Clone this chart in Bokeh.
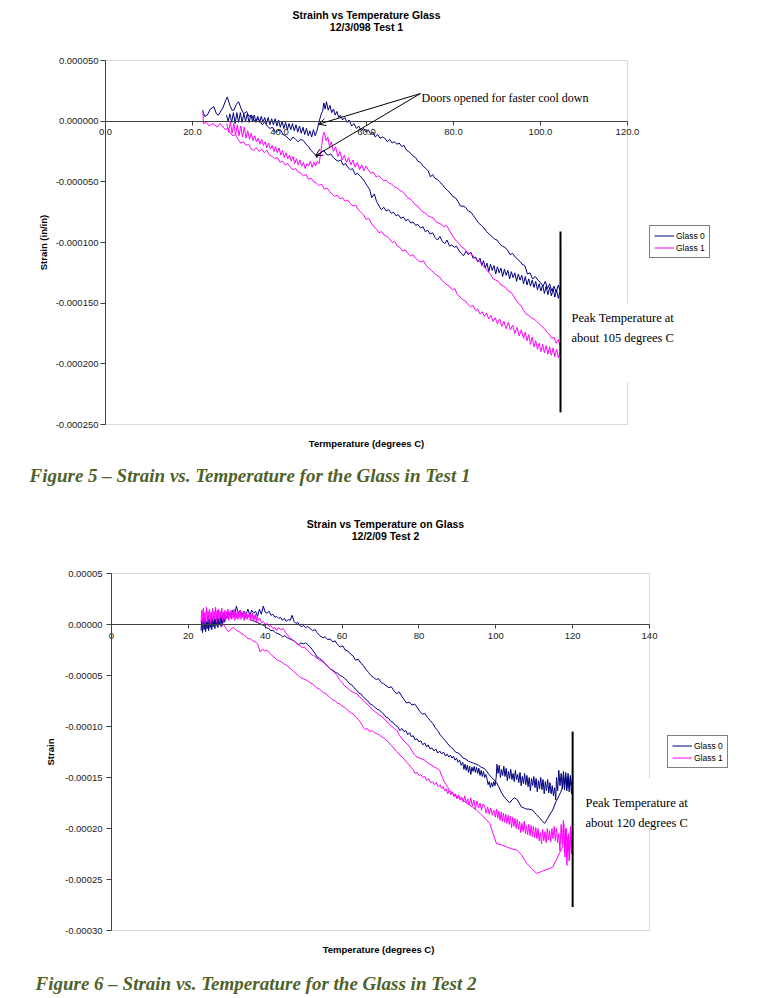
from bokeh.plotting import figure
from bokeh.models import (Range1d, FixedTicker, PrintfTickFormatter, Label, Arrow,
                          OpenHead, Legend, LegendItem, BoxAnnotation)
from bokeh.layouts import column
from bokeh.embed import file_html
from bokeh.resources import INLINE

# ---------------- DATA (temperature degC, strain in micro-strain) ----------------
# Test 1 (12/3/09) - Glass 0
t1_g0_heat = [(22.3, 9), (22.8, 4), (23.4, 5), (24.1, 10), (24.9, 12), (25.5, 6), (26.0, 5), (26.6, 9), (27.0, 11),
    (27.6, 17), (28.0, 20), (28.6, 13), (29.1, 9), (29.5, 9), (30.1, 14), (30.6, 16), (31.2, 10), (31.8, 6), (32.4, 8),
    (33.0, 4), (33.6, 5), (34.2, 0), (34.8, 2), (35.4, 1), (36.0, -3), (36.6, -1), (37.2, -4), (37.8, -6), (38.4, -5),
    (39.0, -9), (39.6, -8), (40.2, -7), (40.8, -11), (41.4, -12), (42.0, -14), (42.5, -16), (43.1, -13), (43.7, -15),
    (44.3, -17), (44.9, -15), (45.5, -16), (46.1, -19), (46.7, -21), (47.2, -24), (47.8, -26), (48.3, -28), (48.6, -30),
    (49.2, -27), (49.7, -25), (50.2, -24), (50.7, -27), (51.2, -28), (51.8, -27), (52.4, -30), (53.0, -32), (53.5, -33),
    (54.1, -32), (54.6, -36), (55.2, -35), (55.7, -38), (56.3, -40), (56.8, -39), (57.4, -44), (57.9, -43), (58.5, -45),
    (59.0, -47), (59.6, -50), (60.1, -53), (60.7, -56), (61.2, -63), (61.8, -60), (62.3, -66), (62.9, -70), (63.4, -73),
    (64.0, -71), (64.5, -74), (65.1, -73), (65.7, -76), (66.2, -75), (66.8, -78), (67.3, -77), (67.9, -80), (68.5, -79),
    (69.0, -82), (69.6, -81), (70.2, -84), (70.7, -83), (71.3, -86), (71.8, -85), (72.4, -88), (73.0, -87), (73.5, -91),
    (74.1, -90), (74.6, -93), (75.2, -92), (75.8, -96), (76.3, -98), (76.9, -95), (77.4, -99), (78.0, -101), (78.5, -98),
    (79.1, -103), (79.6, -102), (80.2, -104), (80.7, -103), (81.3, -107), (81.8, -109), (82.3, -111), (82.9, -107),
    (83.4, -110), (84.0, -108), (84.5, -113), (85.1, -112), (85.6, -116), (86.1, -113), (86.5, -119), (86.9, -115),
    (87.3, -121), (87.7, -117), (88.1, -124), (88.5, -118), (88.9, -123), (89.3, -119), (89.7, -126), (90.1, -120),
    (90.5, -125), (90.9, -121), (91.3, -128), (91.7, -122), (92.1, -127), (92.5, -123), (92.9, -130), (93.3, -124),
    (93.7, -129), (94.1, -125), (94.5, -132), (94.9, -126), (95.3, -131), (95.7, -127), (96.1, -134), (96.5, -128),
    (96.9, -135), (97.3, -130), (97.7, -136), (98.1, -131), (98.5, -137), (98.9, -132), (99.3, -139), (99.7, -134),
    (100.1, -140), (100.5, -135), (100.9, -142), (101.3, -136), (101.7, -143), (102.1, -137), (102.5, -144),
    (102.9, -138), (103.3, -145), (103.7, -139), (104.1, -146), (104.5, -140)]
t1_g0_cool = [(104.5, -140), (104.1, -135), (103.6, -141), (103.1, -136), (102.6, -140), (102.1, -134), (101.6, -138),
    (101.1, -132), (100.6, -136), (100.0, -133), (99.4, -131), (98.8, -128), (98.2, -130), (97.6, -125), (97.0, -126),
    (96.4, -119), (95.8, -118), (95.4, -116), (94.8, -114), (94.2, -112), (93.6, -109), (93.0, -110), (92.4, -106),
    (91.8, -104), (91.2, -103), (90.6, -101), (90.0, -98), (89.4, -97), (88.8, -95), (88.2, -93), (87.6, -91),
    (87.0, -88), (86.4, -86), (85.8, -84), (85.2, -81), (84.6, -78), (84.0, -75), (83.4, -74), (82.8, -71), (82.2, -70),
    (81.6, -70), (81.0, -66), (80.4, -63), (79.8, -62), (79.2, -59), (78.6, -57), (78.0, -55), (77.4, -52), (76.8, -50),
    (76.3, -48), (75.7, -47), (75.2, -44), (74.7, -46), (74.2, -41), (73.6, -39), (73.0, -37), (72.4, -34), (71.8, -33),
    (71.3, -30), (70.8, -29), (70.3, -27), (69.7, -25), (69.2, -24), (68.6, -20), (68.1, -21), (67.5, -18), (67.0, -19),
    (66.4, -17), (65.9, -18), (65.3, -15), (64.8, -17), (64.2, -14), (63.7, -13), (63.1, -14), (62.6, -11), (62.0, -13),
    (61.5, -9), (61.0, -11), (60.4, -7), (59.9, -9), (59.3, -6), (58.8, -8), (58.2, -4), (57.7, -6), (57.1, -2),
    (56.6, -4), (56.0, 1), (55.5, -1), (55.0, 3), (54.5, 1), (54.0, 5), (53.6, 3), (53.2, 8), (52.8, 5), (52.4, 10),
    (52.0, 7), (51.6, 13), (51.2, 9), (50.8, 16), (50.5, 10), (50.2, 15), (49.9, 8), (49.6, 6), (49.2, 1), (49.0, -2),
    (48.6, -8), (48.2, -12), (47.8, -7), (47.4, -13), (47.0, -8), (46.6, -12), (46.2, -6), (45.8, -11), (45.4, -5),
    (45.0, -10), (44.6, -4), (44.2, -9), (43.8, -3), (43.4, -8), (43.0, -2), (42.6, -7), (42.2, -2), (41.8, -7),
    (41.4, -1), (41.0, -6), (40.6, 0), (40.2, -5), (39.8, 1), (39.4, -4), (39.0, 2), (38.6, -3), (38.2, 2), (37.8, -3),
    (37.4, 3), (37.0, -2), (36.6, 3), (36.2, -1), (35.8, 4), (35.4, -1), (35.0, 4), (34.6, -1), (34.2, 5), (33.8, 0),
    (33.4, 5), (33.0, -1), (32.6, 6), (32.2, 0), (31.8, 6), (31.4, -1), (31.0, 7), (30.6, -1), (30.2, 7), (29.8, -2),
    (29.4, 7), (29.0, -1), (28.6, 6), (28.2, 0), (27.8, 5)]
# Test 1 - Glass 1
t1_g1_heat = [(22.4, 8), (22.5, -2), (23.2, -1), (23.8, -4), (24.5, -2), (25.1, -3), (25.7, -5), (26.3, -2), (26.9, -4),
    (27.5, -7), (28.1, -6), (28.7, -10), (29.3, -12), (29.9, -11), (30.5, -15), (31.1, -18), (31.7, -17), (32.3, -20),
    (32.9, -19), (33.5, -23), (34.1, -24), (34.7, -22), (35.3, -25), (35.9, -23), (36.5, -26), (37.1, -24), (37.7, -28),
    (38.3, -29), (38.9, -31), (39.5, -30), (40.1, -34), (40.7, -33), (41.3, -36), (41.9, -35), (42.5, -38), (43.1, -40),
    (43.7, -39), (44.3, -42), (44.9, -43), (45.5, -45), (46.1, -44), (46.7, -48), (47.3, -47), (47.9, -50), (48.5, -51),
    (49.1, -53), (49.7, -52), (50.3, -56), (50.9, -55), (51.5, -58), (52.1, -60), (52.7, -62), (53.3, -61), (53.9, -64),
    (54.5, -63), (55.1, -66), (55.7, -65), (56.3, -68), (56.9, -70), (57.5, -69), (58.1, -73), (58.7, -75), (59.3, -77),
    (59.9, -81), (60.5, -80), (61.1, -84), (61.7, -87), (62.3, -89), (62.9, -92), (63.5, -91), (64.1, -94), (64.7, -95),
    (65.3, -97), (65.9, -100), (66.5, -99), (67.1, -103), (67.7, -104), (68.3, -107), (68.9, -106), (69.5, -109),
    (70.1, -111), (70.7, -110), (71.3, -113), (71.9, -115), (72.5, -116), (73.1, -115), (73.7, -119), (74.3, -121),
    (74.9, -123), (75.5, -125), (76.1, -127), (76.7, -128), (77.3, -131), (77.9, -133), (78.5, -135), (79.1, -136),
    (79.7, -139), (80.3, -138), (80.9, -143), (81.5, -145), (82.1, -147), (82.7, -148), (83.3, -151), (83.9, -153),
    (84.5, -152), (85.1, -156), (85.6, -155), (86.1, -159), (86.6, -157), (87.1, -161), (87.6, -158), (88.1, -163),
    (88.6, -160), (89.1, -165), (89.6, -162), (90.1, -167), (90.6, -163), (91.1, -169), (91.6, -165), (92.1, -171),
    (92.6, -166), (93.1, -172), (93.6, -168), (94.1, -175), (94.6, -170), (95.1, -177), (95.6, -172), (96.1, -179),
    (96.5, -174), (96.9, -181), (97.3, -176), (97.7, -184), (98.1, -178), (98.5, -186), (98.9, -181), (99.3, -188),
    (99.7, -183), (100.1, -190), (100.5, -184), (100.9, -191), (101.3, -185), (101.7, -192), (102.1, -186),
    (102.5, -193), (102.9, -187), (103.3, -194), (103.7, -188), (104.1, -195), (104.5, -190)]
t1_g1_cool = [(104.5, -186), (104.1, -180), (103.6, -183), (103.1, -178), (102.6, -179), (102.1, -176), (101.5, -174),
    (100.9, -171), (100.3, -169), (99.7, -167), (99.1, -165), (98.5, -163), (97.9, -162), (97.3, -160), (96.7, -159),
    (96.1, -156), (95.5, -152), (94.9, -150), (94.3, -147), (93.8, -144), (93.2, -141), (92.6, -140), (92.0, -137),
    (91.5, -136), (90.9, -135), (90.3, -132), (89.7, -131), (89.1, -130), (88.5, -126), (87.9, -124), (87.3, -121),
    (86.7, -119), (86.1, -116), (85.5, -115), (84.9, -113), (84.3, -110), (83.7, -109), (83.1, -108), (82.5, -105),
    (81.9, -104), (81.3, -101), (80.7, -99), (80.1, -96), (79.5, -93), (78.9, -89), (78.4, -86), (77.8, -87),
    (77.2, -85), (76.6, -84), (76.0, -83), (75.4, -80), (74.8, -79), (74.2, -78), (73.6, -76), (73.0, -75), (72.4, -73),
    (71.8, -70), (71.2, -69), (70.6, -66), (70.0, -64), (69.4, -63), (68.8, -60), (68.2, -58), (67.6, -57), (67.0, -55),
    (66.4, -54), (65.8, -52), (65.2, -51), (64.6, -49), (64.0, -49), (63.4, -47), (62.8, -45), (62.2, -46), (61.6, -42),
    (61.0, -43), (60.4, -40), (59.9, -37), (59.4, -41), (58.9, -36), (58.4, -40), (57.9, -34), (57.4, -38), (56.9, -32),
    (56.4, -36), (55.9, -30), (55.4, -34), (54.9, -28), (54.4, -32), (53.9, -25), (53.4, -29), (52.9, -21), (52.4, -25),
    (51.9, -17), (51.5, -21), (51.1, -13), (50.7, -16), (50.3, -9), (50.0, -12), (49.7, -20), (49.4, -28), (49.1, -35),
    (48.7, -33), (48.3, -37), (47.9, -34), (47.5, -38), (47.1, -33), (46.7, -37), (46.3, -35), (45.9, -39), (45.5, -34),
    (45.1, -37), (44.7, -32), (44.3, -36), (43.9, -31), (43.5, -35), (43.1, -29), (42.7, -33), (42.3, -28), (41.9, -31),
    (41.5, -26), (41.1, -30), (40.7, -24), (40.3, -28), (39.9, -22), (39.5, -26), (39.1, -21), (38.7, -25), (38.3, -20),
    (37.9, -23), (37.5, -18), (37.1, -22), (36.7, -17), (36.3, -20), (35.9, -15), (35.5, -19), (35.1, -14), (34.7, -17),
    (34.3, -12), (33.9, -16), (33.5, -10), (33.1, -15), (32.7, -8), (32.3, -14), (31.9, -5), (31.5, -13), (31.1, -4),
    (30.7, -12), (30.3, -3), (29.9, -11), (29.5, -2), (29.1, -10), (28.7, -1), (28.3, -9), (27.9, -2)]

# Test 2 (12/2/09) - Glass 0
t2_g0_heat = [(23.3, -6), (23.5, 4), (23.7, -8), (23.9, 6), (24.1, -5), (24.3, 7), (24.5, -7), (24.7, 3), (24.9, -4),
    (25.1, 8), (25.3, -6), (25.5, 5), (25.7, -3), (25.9, 7), (26.1, -5), (26.3, 6), (26.5, -2), (26.7, 8), (26.9, -4),
    (27.1, 5), (27.3, -1), (27.5, 9), (27.7, -3), (27.9, 6), (28.1, 0), (28.3, 10), (28.5, -2), (28.7, 8), (28.9, 1),
    (29.1, 11), (29.3, 2), (29.6, 9), (30.0, 6), (30.5, 12), (31.0, 8), (31.5, 14), (32.0, 9), (32.5, 18), (33.0, 11),
    (33.5, 14), (34.0, 9), (34.5, 13), (35.0, 10), (35.5, 15), (36.0, 9), (36.5, 14), (37.0, 11), (37.5, 13), (38.0, 8),
    (38.5, 15), (39.0, 10), (39.5, 18), (40.0, 12), (40.5, 11), (41.0, 13), (41.5, 9), (42.0, 10), (42.5, 7), (43.0, 8),
    (43.5, 6), (44.0, 7), (44.5, 4), (45.0, 6), (45.5, 3), (46.0, 5), (46.5, 4), (47.0, 9), (47.5, 3), (48.0, 1),
    (48.5, 2), (49.0, -1), (49.5, -2), (50.0, -1), (50.5, -3), (51.0, -2), (51.7, -4), (52.3, -6), (53.0, -5),
    (53.5, -8), (54.2, -11), (55.0, -13), (55.6, -12), (56.3, -15), (56.9, -14), (57.6, -17), (58.2, -16), (58.7, -19),
    (59.5, -22), (60.2, -21), (60.8, -25), (61.5, -26), (62.2, -29), (62.9, -31), (63.5, -35), (64.2, -34), (64.9, -38),
    (65.5, -40), (66.2, -44), (66.9, -47), (67.5, -50), (68.2, -52), (68.9, -54), (69.5, -53), (70.2, -57), (70.8, -58),
    (71.5, -60), (72.2, -62), (72.8, -61), (73.5, -65), (74.2, -68), (74.8, -66), (75.5, -70), (76.2, -74), (76.8, -77),
    (77.5, -76), (78.2, -79), (78.9, -78), (79.5, -81), (80.2, -85), (80.9, -88), (81.5, -87), (82.2, -91), (82.9, -94),
    (83.6, -97), (84.2, -101), (84.9, -104), (85.5, -108), (86.2, -111), (86.9, -114), (87.5, -117), (88.2, -120),
    (88.9, -122), (89.5, -125), (90.2, -126), (90.9, -128), (91.5, -131), (92.2, -132), (92.9, -134), (93.5, -135),
    (94.2, -136), (94.9, -137), (95.5, -138), (96.2, -140), (96.9, -141), (97.5, -143), (98.2, -147), (98.9, -150),
    (99.5, -152), (100.2, -155), (100.9, -160), (101.5, -165), (102.2, -169), (102.9, -172), (103.6, -175),
    (104.2, -172), (104.8, -170), (105.4, -171), (106.1, -175), (106.7, -179), (107.4, -180), (108.0, -181),
    (108.7, -181), (109.6, -182), (110.5, -186), (111.5, -190), (112.2, -193), (112.7, -195), (113.4, -191),
    (114.1, -186), (114.8, -182), (115.5, -175), (116.2, -170), (116.8, -165), (117.4, -160)]
t2_g0_cool = [(117.6, -148), (117.9, -162), (118.2, -145), (118.5, -160), (118.8, -150), (119.1, -164), (119.4, -148),
    (119.7, -158), (120.0, -152), (119.7, -166), (119.4, -150), (119.1, -160), (118.8, -146), (118.5, -163),
    (118.2, -149), (117.9, -157), (117.6, -144), (117.3, -161), (117.0, -146), (116.7, -158), (116.4, -143),
    (116.1, -163), (115.8, -150), (115.6, -172), (115.3, -160), (115.0, -168), (114.7, -158), (114.4, -166),
    (114.1, -155), (113.8, -165), (113.5, -152), (113.2, -163), (112.9, -154), (112.6, -166), (112.3, -152),
    (112.0, -162), (111.7, -150), (111.4, -161), (111.1, -153), (110.8, -164), (110.5, -151), (110.2, -160),
    (109.9, -149), (109.6, -158), (109.3, -151), (109.0, -163), (108.7, -150), (108.4, -159), (108.1, -148),
    (107.8, -157), (107.5, -146), (107.2, -156), (106.9, -149), (106.6, -158), (106.3, -145), (106.0, -155),
    (105.7, -147), (105.4, -152), (105.1, -143), (104.8, -154), (104.5, -146), (104.2, -152), (103.9, -142),
    (103.6, -151), (103.3, -144), (103.0, -153), (102.7, -141), (102.4, -149), (102.1, -139), (101.8, -148),
    (101.5, -142), (101.2, -150), (100.9, -138), (100.6, -146), (100.3, -137), (100.1, -150), (99.8, -158),
    (99.5, -154), (99.2, -159), (98.9, -155), (98.6, -160), (98.3, -154), (98.0, -157), (97.7, -151), (97.4, -147),
    (97.1, -150), (96.8, -144), (96.5, -149), (96.2, -143), (95.9, -148), (95.6, -141), (95.3, -146), (95.0, -140),
    (94.7, -145), (94.4, -139), (94.1, -144), (93.8, -140), (93.5, -147), (93.2, -139), (92.9, -145), (92.6, -138),
    (92.3, -143), (92.0, -137), (91.7, -142), (91.4, -135), (91.0, -138), (90.6, -133), (90.2, -135), (89.8, -131),
    (89.4, -133), (89.0, -129), (88.6, -131), (88.2, -128), (87.8, -130), (87.3, -127), (86.9, -129), (86.4, -125),
    (85.9, -127), (85.4, -124), (84.9, -126), (84.4, -122), (83.9, -124), (83.4, -121), (82.9, -122), (82.4, -118),
    (82.0, -120), (81.5, -116), (81.0, -118), (80.5, -114), (80.0, -115), (79.5, -112), (79.0, -113), (78.5, -109),
    (78.0, -110), (77.6, -106), (77.1, -108), (76.6, -104), (76.1, -105), (75.6, -102), (75.0, -104), (74.5, -100),
    (73.9, -99), (73.3, -96), (72.7, -95), (72.1, -92), (71.5, -91), (70.9, -88), (70.3, -86), (69.7, -84), (69.1, -83),
    (68.5, -81), (67.9, -79), (67.3, -78), (66.7, -75), (66.1, -73), (65.5, -71), (64.9, -68), (64.3, -67), (63.7, -64),
    (63.1, -62), (62.5, -59), (61.9, -58), (61.3, -55), (60.7, -53), (60.1, -51), (59.5, -50), (58.9, -48), (58.3, -47),
    (57.7, -45), (57.1, -44), (56.5, -42), (55.9, -40), (55.3, -37), (54.7, -35), (54.1, -33), (53.5, -32), (52.9, -28),
    (52.3, -25), (51.7, -22), (51.1, -20), (50.5, -18), (49.9, -19), (49.3, -18), (48.7, -20), (48.1, -18), (47.5, -16),
    (46.9, -15), (46.3, -14), (45.7, -13), (45.1, -11), (44.5, -12), (43.9, -10), (43.3, -9), (42.7, -8), (42.1, -6),
    (41.5, -6), (40.9, -4), (40.3, -3), (39.7, -1), (39.1, 0), (38.5, 1), (37.9, 2), (37.3, 3), (36.7, 4), (36.0, 5)]
# Test 2 - Glass 1
t2_g1_heat = [(23.3, 2), (23.5, 14), (23.7, 3), (23.9, 16), (24.1, 1), (24.3, 12), (24.5, 4), (24.7, 17), (24.9, 2),
    (25.1, 13), (25.3, 5), (25.5, 15), (25.7, 1), (25.9, 12), (26.1, 4), (26.3, 16), (26.5, 3), (26.7, 13), (26.9, 5),
    (27.1, 17), (27.3, 2), (27.5, 14), (27.7, 6), (27.9, 15), (28.1, 3), (28.3, 13), (28.5, 6), (28.7, 16), (28.9, 4),
    (29.1, 12), (29.3, 5), (29.5, 14), (29.7, 3), (29.9, 13), (30.1, 6), (30.3, 15), (30.5, 4), (30.7, 12), (30.9, 6),
    (31.1, 14), (31.3, 5), (31.5, 12), (31.7, 7), (31.9, 15), (32.1, 4), (32.3, 11), (32.5, 6), (32.7, 13), (32.9, 5),
    (33.1, 12), (33.3, 7), (33.5, 14), (33.7, 5), (33.9, 11), (34.1, 7), (34.3, 13), (34.5, 4), (34.7, 11), (34.9, 6),
    (35.1, 12), (35.3, 5), (35.5, 10), (35.7, 7), (35.9, 12), (36.1, 4), (36.3, 10), (36.5, 6), (36.7, 11), (36.9, 3),
    (37.1, 9), (37.3, 5), (37.5, 10), (37.7, 2), (37.9, 8), (38.2, 4), (38.6, 6), (39.0, 2), (39.5, 3), (40.0, 0),
    (40.5, 1), (41.0, -2), (41.5, -1), (42.0, -4), (42.5, -3), (43.0, -6), (43.5, -3), (44.0, -5), (44.7, -4),
    (45.3, -8), (45.9, -11), (46.5, -13), (47.1, -15), (47.7, -17), (48.3, -19), (48.9, -20), (49.6, -23), (50.2, -22),
    (50.9, -25), (51.5, -27), (52.2, -30), (52.8, -31), (53.5, -33), (54.1, -35), (54.8, -36), (55.4, -38), (56.1, -40),
    (56.7, -43), (57.4, -45), (58.0, -47), (58.7, -50), (59.3, -54), (60.0, -57), (60.6, -60), (61.3, -62), (61.9, -64),
    (62.6, -66), (63.2, -67), (63.9, -68), (64.5, -71), (65.2, -73), (65.8, -76), (66.5, -78), (67.1, -80), (67.8, -83),
    (68.4, -85), (69.1, -87), (69.7, -89), (70.4, -90), (71.0, -93), (71.7, -95), (72.3, -98), (73.0, -100),
    (73.6, -102), (74.3, -104), (75.0, -109), (75.6, -112), (76.3, -115), (76.9, -117), (77.6, -120), (78.2, -124),
    (78.9, -128), (79.5, -130), (80.2, -131), (80.8, -132), (81.5, -133), (82.1, -135), (82.8, -137), (83.4, -138),
    (84.1, -140), (84.7, -141), (85.4, -143), (86.1, -150), (86.7, -155), (87.4, -159), (88.0, -163), (88.7, -165),
    (89.3, -167), (90.0, -169), (90.6, -170), (91.7, -173), (92.8, -176), (93.9, -179), (95.0, -182), (96.1, -186),
    (97.2, -190), (98.4, -195), (99.2, -204), (100.2, -215), (101.5, -216), (102.8, -218), (104.1, -220),
    (105.4, -221), (106.7, -226), (108.0, -234), (109.3, -239), (110.6, -244), (112.0, -242), (113.4, -240),
    (114.8, -238), (115.7, -231), (116.6, -224), (117.4, -218)]
t2_g1_cool = [(117.7, -195), (118.0, -228), (118.3, -200), (118.6, -222), (118.9, -205), (119.2, -230), (119.5, -198),
    (119.8, -220), (120.0, -210), (119.7, -225), (119.4, -202), (119.1, -232), (118.8, -208), (118.5, -236),
    (118.2, -200), (117.9, -224), (117.6, -192), (117.3, -215), (117.0, -196), (116.7, -222), (116.4, -205),
    (116.1, -214), (115.8, -200), (115.5, -212), (115.2, -198), (114.9, -210), (114.6, -200), (114.3, -213),
    (114.0, -202), (113.7, -211), (113.4, -200), (113.1, -214), (112.8, -203), (112.5, -212), (112.2, -201),
    (111.9, -215), (111.6, -204), (111.3, -212), (111.0, -200), (110.7, -210), (110.4, -199), (110.1, -209),
    (109.8, -198), (109.5, -208), (109.2, -197), (108.9, -207), (108.6, -196), (108.3, -206), (108.0, -197),
    (107.7, -205), (107.4, -193), (107.1, -203), (106.8, -195), (106.5, -204), (106.2, -193), (105.9, -201),
    (105.6, -191), (105.3, -200), (105.0, -190), (104.7, -198), (104.4, -189), (104.1, -199), (103.8, -188),
    (103.5, -196), (103.2, -187), (102.9, -195), (102.6, -186), (102.3, -194), (102.0, -185), (101.7, -193),
    (101.4, -184), (101.1, -192), (100.8, -183), (100.5, -190), (100.2, -181), (99.9, -189), (99.5, -182),
    (99.1, -187), (98.7, -180), (98.3, -186), (97.9, -179), (97.5, -185), (97.1, -178), (96.7, -176), (96.3, -182),
    (95.9, -175), (95.5, -180), (95.1, -173), (94.7, -181), (94.3, -172), (93.9, -178), (93.5, -170), (93.1, -177),
    (92.7, -171), (92.3, -175), (91.9, -168), (91.5, -174), (91.1, -169), (90.7, -172), (90.3, -167), (89.9, -171),
    (89.5, -166), (89.1, -169), (88.7, -164), (88.3, -167), (87.9, -162), (87.5, -166), (87.1, -161), (86.7, -163),
    (86.3, -159), (85.9, -161), (85.5, -157), (85.0, -159), (84.5, -155), (84.0, -157), (83.5, -154), (83.0, -155),
    (82.5, -151), (82.0, -153), (81.5, -149), (81.0, -150), (80.5, -147), (80.0, -148), (79.5, -145), (79.0, -146),
    (78.4, -142), (77.9, -140), (77.3, -137), (76.8, -135), (76.2, -132), (75.6, -130), (75.0, -128), (74.4, -125),
    (73.8, -123), (73.2, -120), (72.6, -118), (72.0, -115), (71.4, -113), (70.8, -111), (70.2, -110), (69.6, -108),
    (69.0, -107), (68.4, -106), (67.8, -104), (67.2, -105), (66.6, -102), (66.0, -103), (65.4, -100), (64.8, -96),
    (64.2, -93), (63.6, -91), (63.0, -88), (62.4, -87), (61.8, -85), (61.2, -83), (60.6, -81), (60.0, -80), (59.4, -78),
    (58.8, -77), (58.2, -75), (57.6, -74), (57.0, -72), (56.4, -70), (55.8, -68), (55.2, -67), (54.6, -65), (54.0, -63),
    (53.4, -62), (52.8, -60), (52.2, -58), (51.6, -57), (51.0, -55), (50.4, -54), (49.8, -53), (49.2, -52), (48.6, -50),
    (48.0, -48), (47.4, -46), (46.8, -44), (46.2, -42), (45.6, -40), (45.0, -39), (44.4, -37), (43.8, -36), (43.2, -35),
    (42.6, -33), (42.0, -31), (41.4, -29), (40.8, -27), (40.4, -25), (39.8, -26), (39.3, -24), (38.7, -27), (38.3, -22),
    (38.0, -19), (37.4, -17), (36.8, -16), (36.2, -14), (35.6, -14), (35.0, -12), (34.4, -10), (33.8, -9), (33.2, -7),
    (32.6, -6), (32.0, -4), (31.6, -3), (31.0, -5), (30.4, -7), (30.0, -5), (29.5, -2), (29.0, 1), (28.6, -3)]

series_names = ["Glass 0", "Glass 1"]
t1_x_ticks = [0, 20, 40, 60, 80, 100, 120]
t1_y_ticks = [0.00005, 0.0, -0.00005, -0.0001, -0.00015, -0.0002, -0.00025]
t2_x_ticks = [0, 20, 40, 60, 80, 100, 120, 140]
t2_y_ticks = [0.00005, 0.0, -0.00005, -0.0001, -0.00015, -0.0002, -0.00025, -0.0003]
# peak-temperature marker lines (temperature, strain top, strain bottom) in micro-strain
t1_peak = (104.6, -91, -240)
t2_peak = (120.0, -105, -277)
# "doors opened" arrow tips (temperature, micro-strain)
t1_door_tips = [(49.0, -2.5), (48.3, -28.5)]

# ---------------- STYLE ----------------
NAVY = "#000080"
PINK = "#FF00FF"
SANS = "Liberation Sans"
SERIF = "Liberation Serif"
CAPTION = "#4F6228"
PAGE_LEFT = 0
WIDTH = 776


def xs(*segs):
    return [t for seg in segs for t, _ in seg]


def ys(*segs):
    return [s * 1e-6 for seg in segs for _, s in seg]


def make_chart(page_top, height, frame, x_range, y_range, x_ticks, x_fmt, y_ticks, y_fmt,
               y_label, y_tick_standoff, y_label_std):
    """The whole canvas is the frame; the plot area (page pixel box `frame`) is
    given by the data ranges x_range/y_range, and the axes sit on its edges."""
    fl, ft, fr, fb = frame  # plot-area edges in page pixels
    kx = (x_range[1] - x_range[0]) / (fr - fl)
    ky = (y_range[1] - y_range[0]) / (fb - ft)
    full_x = (x_range[0] + (PAGE_LEFT - fl) * kx, x_range[0] + (PAGE_LEFT + WIDTH - fl) * kx)
    full_y = (y_range[1] - (page_top + height - ft) * ky, y_range[1] + (ft - page_top) * ky)
    p = figure(width=WIDTH, height=height, frame_width=WIDTH, frame_height=height,
               output_backend="svg", toolbar_location=None,
               x_range=Range1d(*full_x), y_range=Range1d(*full_y), min_border=0)
    p.background_fill_color = "white"
    p.border_fill_color = "white"
    p.outline_line_color = None
    p.grid.visible = False

    # plot-area border (grey), under everything
    p.add_layout(BoxAnnotation(left=x_range[0], right=x_range[1], bottom=y_range[0], top=y_range[1],
                               fill_color=None, fill_alpha=0, line_color="#808080", line_width=1,
                               level="underlay"))

    xa = p.xaxis[0]
    xa.fixed_location = 0
    xa.bounds = x_range
    xa.ticker = FixedTicker(ticks=x_ticks)
    xa.formatter = PrintfTickFormatter(format=x_fmt)
    ya = p.yaxis[0]
    ya.fixed_location = x_range[0]
    ya.bounds = y_range
    ya.ticker = FixedTicker(ticks=y_ticks)
    ya.formatter = PrintfTickFormatter(format=y_fmt)
    ya.axis_label = y_label
    ya.axis_label_standoff = y_label_std
    ya.axis_label_text_font = SANS
    ya.axis_label_text_font_style = "bold"
    ya.axis_label_text_font_size = "9.5px"
    ya.axis_label_text_color = "black"
    for ax in (xa, ya):
        ax.axis_line_color = "#404040"
        ax.major_tick_line_color = "#404040"
        ax.minor_tick_line_color = None
        ax.major_tick_in = 0
        ax.major_tick_out = 5
        ax.major_label_text_font = SANS
        ax.major_label_text_font_size = "9.5px"
        ax.major_label_text_color = "#222222"
    xa.major_tick_out = 4
    xa.major_label_standoff = 4
    ya.major_label_standoff = y_tick_standoff

    def to_data(px, py):
        return x_range[0] + (px - fl) * kx, y_range[1] - (py - ft) * ky

    def to_screen(px, py):  # page pixels -> canvas pixels from bottom-left
        return px - PAGE_LEFT, page_top + height - py

    return p, to_data, to_screen


def add_series(p, seg0, seg1, legend_loc):
    r0 = p.line(xs(*seg0), ys(*seg0), line_color=NAVY, line_width=1)
    r1 = p.line(xs(*seg1), ys(*seg1), line_color=PINK, line_width=1)
    leg = Legend(items=[LegendItem(label=series_names[0], renderers=[r0]),
                        LegendItem(label=series_names[1], renderers=[r1])],
                 location=legend_loc, margin=0, padding=4, spacing=1,
                 glyph_width=20, glyph_height=11, label_height=11, label_standoff=2,
                 label_text_font=SANS, label_text_font_size="8.5px", label_text_color="black",
                 border_line_color="#000000", border_line_width=1, background_fill_color="white",
                 background_fill_alpha=1.0)
    p.add_layout(leg)


def white_box(p, to_data, px0, py0, px1, py1):
    x0, y0 = to_data(px0, py0)
    x1, y1 = to_data(px1, py1)
    p.add_layout(BoxAnnotation(left=x0, right=x1, top=y0, bottom=y1, fill_color="white",
                               fill_alpha=1.0, line_color=None, level="underlay"))


def text(p, to_data, px, py, s, size, font=SANS, style="normal", align="left", color="black"):
    x, y = to_data(px, py)
    p.add_layout(Label(x=x, y=y, text=s, text_font=font, text_font_size=size, text_font_style=style,
                       text_align=align, text_baseline="alphabetic", text_color=color))


# ---------------- CHART 1 ----------------
F1 = (105, 60, 627, 424)
p1, d1, s1 = make_chart(0, 490, F1, (0, 120), (-0.00025, 0.00005),
                        t1_x_ticks, "%.1f", t1_y_ticks, "%.6f", "Strain (in/in)", 2, 4)
white_box(p1, d1, 565, 303, 685, 382)
add_series(p1, (t1_g0_heat, t1_g0_cool), (t1_g1_heat, t1_g1_cool), s1(649, 258))
p1.segment(x0=[t1_peak[0]], y0=[t1_peak[1] * 1e-6], x1=[t1_peak[0]], y1=[t1_peak[2] * 1e-6],
           line_color="black", line_width=2)
text(p1, d1, 366, 14, "Strainh vs Temperature Glass", "10.5px", style="bold", align="center")
text(p1, d1, 366, 26, "12/3/098 Test 1", "10.5px", style="bold", align="center")
text(p1, d1, 366, 443, "Termperature (degrees C)", "9.5px", style="bold", align="center")
text(p1, d1, 29, 475, "Figure 5 \u2013 Strain vs. Temperature for the Glass in Test 1", "19px",
     font=SERIF, style="bold italic", color=CAPTION)
text(p1, d1, 571, 317, "Peak Temperature at", "12.5px", font=SERIF)
text(p1, d1, 571, 337, "about 105 degrees C", "12.5px", font=SERIF)
text(p1, d1, 421, 97, "Doors opened for faster cool down", "12px", font=SERIF)
tail_x, tail_y = d1(420, 93)
for tx, ts in t1_door_tips:
    p1.add_layout(Arrow(x_start=tail_x, y_start=tail_y, x_end=tx, y_end=ts * 1e-6,
                        line_color="black", line_width=1,
                        end=OpenHead(size=7, line_color="black", line_width=1)))

# ---------------- CHART 2 ----------------
F2 = (111, 573, 649, 930)
p2, d2, s2 = make_chart(490, 506, F2, (0, 140), (-0.0003, 0.00005),
                        t2_x_ticks, "%d", t2_y_ticks, "%.5f", "Strain", 4, 6)
white_box(p2, d2, 578, 778, 698, 827)
add_series(p2, (t2_g0_heat, t2_g0_cool), (t2_g1_heat, t2_g1_cool), s2(667, 768))
p2.segment(x0=[t2_peak[0]], y0=[t2_peak[1] * 1e-6], x1=[t2_peak[0]], y1=[t2_peak[2] * 1e-6],
           line_color="black", line_width=2)
text(p2, d2, 385, 523, "Strain vs Temperature on Glass", "10.5px", style="bold", align="center")
text(p2, d2, 385, 535, "12/2/09 Test 2", "10.5px", style="bold", align="center")
text(p2, d2, 378, 949, "Temperature (degrees C)", "9.5px", style="bold", align="center")
text(p2, d2, 35, 983, "Figure 6 \u2013 Strain vs. Temperature for the Glass in Test 2", "19px",
     font=SERIF, style="bold italic", color=CAPTION)
text(p2, d2, 585, 802, "Peak Temperature at", "12.5px", font=SERIF)
text(p2, d2, 585, 822, "about 120 degrees C", "12.5px", font=SERIF)

layout = column(p1, p2, spacing=0)
open("out.html", "w").write(file_html(layout, INLINE))
